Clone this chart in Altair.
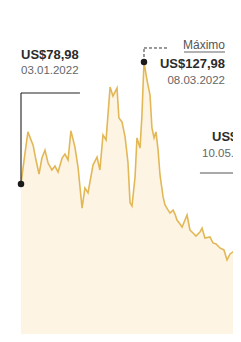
import altair as alt
import pandas as pd

# Days since 03.01.2022 and price (US$)
dias = [0, 1.6, 3.6, 5.2, 6.3, 7.8, 9.4, 10.9, 12.5, 14.1, 16.1, 17.7, 19.3, 21.4, 22.9,
        24.5, 26.0, 28.1, 29.7, 31.8, 33.3, 34.9, 37.5, 39.6, 41.1, 42.7, 44.3, 46.4,
        47.9, 50.0, 51.0, 52.6, 54.2, 55.7, 56.8, 57.8, 59.4, 60.4, 62.0, 63.0, 64.06,
        65.6, 67.2, 68.2, 69.3, 70.3, 71.4, 72.4, 74.0, 75.0, 76.0, 77.6, 79.2, 80.2,
        81.25, 82.8, 83.9, 85.4, 86.5, 88.0, 89.6, 91.1, 93.2, 94.3, 95.8, 98.4, 100.0,
        101.6, 103.6, 105.7, 107.3, 108.9, 110.4, 112.0, 114.1, 115.6]
precos = [78.98, 88.6, 99.9, 96.7, 94.6, 88.6, 83.0, 89.4, 92.6, 87.4, 84.6, 86.2, 83.8,
          89.4, 91.0, 88.6, 100.3, 93.8, 85.8, 69.3, 77.4, 75.4, 86.6, 89.8, 84.6, 98.7,
          96.7, 117.9, 114.3, 117.5, 105.5, 103.9, 97.9, 87.8, 71.4, 70.1, 81.8, 97.5,
          93.4, 106.7, 127.98, 120.8, 114.7, 101.5, 97.5, 99.9, 92.6, 82.6, 73.8, 70.6,
          69.3, 67.3, 68.5, 66.9, 64.5, 62.9, 61.7, 64.5, 66.5, 60.5, 59.3, 58.1, 59.7,
          61.3, 57.3, 57.7, 55.3, 54.9, 53.3, 52.5, 48.5, 50.9, 51.7, 50.5, 48.5, 49.3]

W, H = 225, 326
X_DOM = [-6.77, 110.42]
Y_DOM = [18.74, 149.66]
FONT = "Liberation Sans"

df = pd.DataFrame({"dia": dias, "preco": precos})
xs = alt.Scale(domain=X_DOM, nice=False, zero=False)
ys = alt.Scale(domain=Y_DOM, nice=False, zero=False)

area = alt.Chart(df).mark_area(color="#fdf4e3", clip=True).encode(
    x=alt.X("dia:Q", scale=xs, axis=None),
    y=alt.Y("preco:Q", scale=ys, axis=None),
    y2=alt.value(H),
)
line = alt.Chart(df).mark_line(color="#e2b857", strokeWidth=1.6, clip=True).encode(
    x="dia:Q", y="preco:Q"
)

# annotations
pts = pd.DataFrame({"dia": [0, 64.06], "preco": [78.98, 127.98]})
dots = alt.Chart(pts).mark_circle(color="#1a1a1a", size=42, opacity=1).encode(
    x="dia:Q", y="preco:Q"
)

solid = pd.DataFrame({
    "x": [0, 0, 93.2, 84.9],
    "x2": [0, 30.7, 130, 106.25],
    "y": [78.98, 115.53, 83.4, 132.0],
    "y2": [115.53, 115.53, 83.4, 132.0],
    "c": ["#222222", "#222222", "#555555", "#666666"],
})
rules = alt.Chart(solid).mark_rule(strokeWidth=1.1, clip=True).encode(
    x="x:Q", x2="x2", y="y:Q", y2="y2", color=alt.Color("c:N", scale=None)
)
dashed = pd.DataFrame({
    "x": [64.06, 64.06], "x2": [64.06, 76.6],
    "y": [127.98, 133.6], "y2": [133.6, 133.6],
})
drules = alt.Chart(dashed).mark_rule(strokeWidth=1, color="#333333",
                                     strokeDash=[3, 2]).encode(
    x="x:Q", x2="x2", y="y:Q", y2="y2"
)

bold_txt = pd.DataFrame({"x": [0, 99.5], "y": [130.79, 97.86],
                         "t": ["US$78,98", "US$101,64"]})
date_txt = pd.DataFrame({"x": [0, 94.3], "y": [124.36, 91.03],
                         "t": ["03.01.2022", "10.05.2022"]})
t1 = alt.Chart(bold_txt).mark_text(align="left", baseline="middle", font=FONT,
                                   fontSize=13, fontWeight="bold",
                                   color="#2b2b2b", clip=True).encode(
    x="x:Q", y="y:Q", text="t:N")
t2 = alt.Chart(date_txt).mark_text(align="left", baseline="middle", font=FONT,
                                   fontSize=11.5, color="#666666",
                                   clip=True).encode(
    x="x:Q", y="y:Q", text="t:N")

max_bold = pd.DataFrame({"x": [106.25], "y": [127.17], "t": ["US$127,98"]})
max_norm = pd.DataFrame({"x": [106.25, 106.25], "y": [134.8, 120.35],
                         "t": ["Máximo", "08.03.2022"],
                         "c": ["#555555", "#666666"], "s": [12, 11.5]})
t3 = alt.Chart(max_bold).mark_text(align="right", baseline="middle", font=FONT,
                                   fontSize=13, fontWeight="bold",
                                   color="#2b2b2b").encode(
    x="x:Q", y="y:Q", text="t:N")
t4 = alt.Chart(max_norm).mark_text(align="right", baseline="middle",
                                   font=FONT).encode(
    x="x:Q", y="y:Q", text="t:N",
    color=alt.Color("c:N", scale=None),
    size=alt.Size("s:Q", scale=None),
)

chart = alt.layer(area, line, rules, drules, dots, t1, t2, t3, t4).properties(
    width=W, height=H,
    autosize=alt.AutoSizeParams(type="none"),
    padding=0,
    background="white",
).configure_view(stroke=None)

chart.save("out.html", embed_options={"renderer": "svg", "actions": False})
